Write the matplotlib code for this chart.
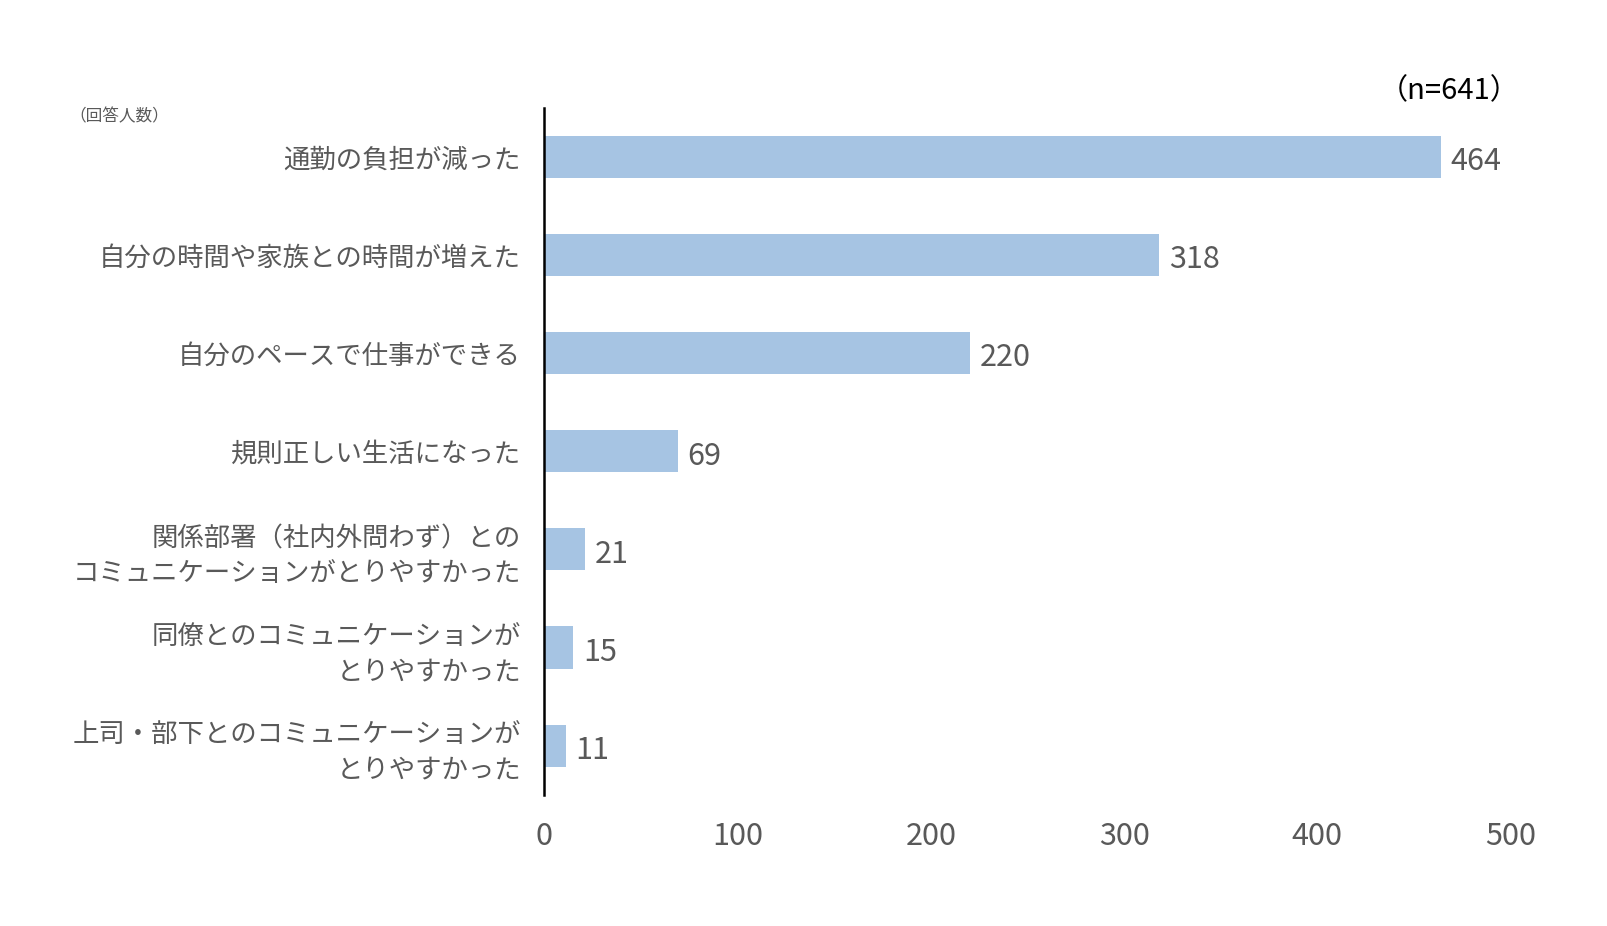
import matplotlib
matplotlib.use("Agg")
import matplotlib.pyplot as plt

plt.rcParams['font.family'] = ['Noto Sans CJK JP', 'DejaVu Sans']

# data
labels = [
    "通勤の負担が減った",
    "自分の時間や家族との時間が増えた",
    "自分のペースで仕事ができる",
    "規則正しい生活になった",
    "関係部署（社内外問わず）との\nコミュニケーションがとりやすかった",
    "同僚とのコミュニケーションが\nとりやすかった",
    "上司・部下とのコミュニケーションが\nとりやすかった",
]
counts = [464, 318, 220, 69, 21, 15, 11]
xticks = [0, 100, 200, 300, 400, 500]

grey = "#595959"
fig = plt.figure(figsize=(16.08, 9.26), dpi=100)
ax = fig.add_axes([0.3386, 0.1417, 0.6008, 0.742])

pos = list(range(len(labels)))
ax.barh(pos, counts, height=0.43, color="#A6C4E3")
ax.set_xlim(0, 500)
ax.set_ylim(6.5, -0.5)

for y, v in zip(pos, counts):
    ax.annotate(str(v), (v, y), xytext=(7, -1), textcoords="offset points",
                ha="left", va="center_baseline", fontsize=22, color=grey)

ax.set_yticks(pos)
ax.set_yticklabels(labels, fontsize=19, color=grey, linespacing=1.36)
ax.set_xticks(xticks)
ax.set_xticklabels([str(t) for t in xticks], fontsize=22, color=grey)
ax.tick_params(axis="y", length=0, pad=17)
ax.tick_params(axis="x", length=0, pad=19)

for s in ["top", "right", "bottom"]:
    ax.spines[s].set_visible(False)
ax.spines["left"].set_linewidth(1.8)
ax.spines["left"].set_color("black")

fig.text(0.945, 0.901, "（n=641）", ha="right", va="center", fontsize=21, color="black")
fig.text(0.043, 0.874, "（回答人数）", ha="left", va="center", fontsize=12, color=grey)

fig.savefig("out.png", dpi=100)
